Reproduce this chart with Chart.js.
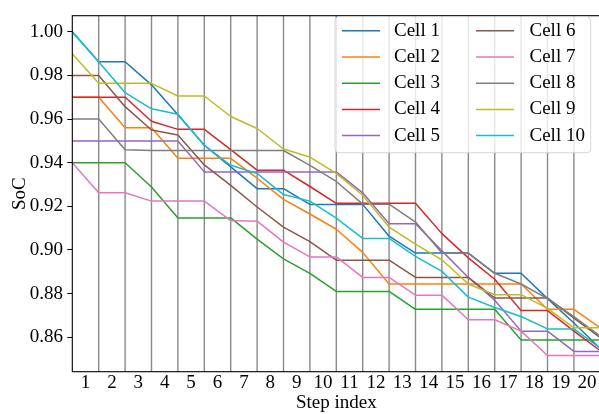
<!DOCTYPE html>
<html>
<head>
<meta charset="utf-8">
<title>Cell SoC per step</title>
<script src="https://cdn.jsdelivr.net/npm/chart.js@4.4.1/dist/chart.umd.min.js"></script>
<style>
  html, body { margin: 0; padding: 0; background: #fff; overflow: hidden; }
  #soc { display: block; }
</style>
</head>
<body>
<canvas id="soc" width="602" height="414"></canvas>
<script>
/** Data **/

// SoC is sampled on the boundaries between steps
const stepEdges = [0.5, 1.5, 2.5, 3.5, 4.5, 5.5, 6.5, 7.5, 8.5, 9.5, 10.5,
                   11.5, 12.5, 13.5, 14.5, 15.5, 16.5, 17.5, 18.5, 19.5, 20.5];
const stepTicks = [1, 2, 3, 4, 5, 6, 7, 8, 9, 10, 11, 12, 13, 14, 15, 16, 17, 18, 19, 20];
const socTicks = [0.86, 0.88, 0.90, 0.92, 0.94, 0.96, 0.98, 1.00];

const cell1  = [1.000, 0.9863, 0.9863, 0.9757, 0.962, 0.948, 0.9381, 0.9281, 0.9281, 0.9209, 0.9209,
                0.9209, 0.9063, 0.8986, 0.8986, 0.8986, 0.8893, 0.8893, 0.8777, 0.8665, 0.8548];
const cell2  = [0.970, 0.970, 0.956, 0.956, 0.942, 0.942, 0.942, 0.9329, 0.9232, 0.9165, 0.9095,
                0.8989, 0.8844, 0.8844, 0.8844, 0.8844, 0.8844, 0.8844, 0.8728, 0.8728, 0.8643];
const cell3  = [0.940, 0.940, 0.940, 0.9289, 0.9147, 0.9147, 0.9147, 0.905, 0.8959, 0.8893, 0.881,
                0.881, 0.881, 0.8728, 0.8728, 0.8728, 0.8728, 0.8587, 0.8587, 0.8587, 0.8587];
const cell4  = [0.970, 0.970, 0.970, 0.959, 0.9553, 0.9553, 0.946, 0.9366, 0.9366, 0.9291, 0.9214,
                0.9214, 0.9214, 0.9214, 0.9075, 0.8964, 0.8866, 0.8722, 0.8722, 0.8628, 0.8538];
const cell5  = [0.950, 0.950, 0.950, 0.950, 0.950, 0.9358, 0.9358, 0.9358, 0.9358, 0.9358, 0.9358,
                0.9262, 0.912, 0.912, 0.8996, 0.8874, 0.877, 0.8628, 0.8628, 0.8535, 0.8535];
const cell6  = [0.980, 0.980, 0.9657, 0.955, 0.9527, 0.939, 0.9296, 0.9197, 0.9105, 0.9038, 0.8953,
                0.8953, 0.8953, 0.8874, 0.8874, 0.8874, 0.878, 0.878, 0.878, 0.8688, 0.8598];
const cell7  = [0.940, 0.9262, 0.9262, 0.9224, 0.9224, 0.9224, 0.9135, 0.9132, 0.9036, 0.8968, 0.8968,
                0.8874, 0.8874, 0.8793, 0.8793, 0.868, 0.868, 0.8628, 0.8516, 0.8516, 0.8516];
const cell8  = [0.960, 0.960, 0.946, 0.9456, 0.9456, 0.9456, 0.9456, 0.9456, 0.9456, 0.9388, 0.9314,
                0.921, 0.921, 0.9128, 0.8986, 0.8986, 0.8893, 0.8844, 0.8777, 0.8695, 0.8605];
const cell9  = [0.990, 0.9764, 0.9764, 0.9764, 0.9706, 0.9706, 0.9612, 0.9557, 0.9463, 0.9426, 0.9351,
                0.9251, 0.9105, 0.9027, 0.8955, 0.8844, 0.8795, 0.8795, 0.8732, 0.8643, 0.8643];
const cell10 = [1.000, 0.9863, 0.9721, 0.9647, 0.9622, 0.948, 0.9388, 0.9351, 0.9254, 0.9224, 0.9146,
                0.9053, 0.9053, 0.8971, 0.8902, 0.8784, 0.8736, 0.8695, 0.8638, 0.8638, 0.855];

const cellNames = ['Cell 1', 'Cell 2', 'Cell 3', 'Cell 4', 'Cell 5',
                   'Cell 6', 'Cell 7', 'Cell 8', 'Cell 9', 'Cell 10'];
const cellSoc = [cell1, cell2, cell3, cell4, cell5, cell6, cell7, cell8, cell9, cell10];

/** Styles **/

const cellColors = ['#1f77b4', '#ff7f0e', '#2ca02c', '#d62728', '#9467bd',
                    '#8c564b', '#e377c2', '#7f7f7f', '#bcbd22', '#17becf'];
const serif = "'Liberation Serif', 'DejaVu Serif', serif";

Chart.defaults.font.family = serif;
Chart.defaults.font.size = 19;
Chart.defaults.color = '#000';

/** Plugins **/

// gray separators between consecutive steps, under the curves
const stepLines = {
    id: 'stepLines',
    beforeDatasetsDraw(chart) {
        const {ctx, chartArea, scales} = chart;
        ctx.save();
        ctx.strokeStyle = '#8a8a8a';
        ctx.lineWidth = 1.4;
        stepTicks.slice(0, -1).forEach(function(s) {
            const px = scales.x.getPixelForValue(s + 0.5);
            ctx.beginPath();
            ctx.moveTo(px, chartArea.top);
            ctx.lineTo(px, chartArea.bottom);
            ctx.stroke();
        });
        ctx.restore();
    }
};

// axes frame on top of the curves
const frame = {
    id: 'frame',
    afterDatasetsDraw(chart) {
        const {ctx, chartArea} = chart;
        ctx.save();
        ctx.strokeStyle = '#000';
        ctx.lineWidth = 1.1;
        ctx.strokeRect(chartArea.left, chartArea.top,
                       chartArea.right - chartArea.left, chartArea.bottom - chartArea.top);
        ctx.restore();
    }
};

// two column legend in the upper right corner
const legendBox = {
    id: 'legendBox',
    afterDraw(chart) {
        const {ctx} = chart;
        const sets = chart.data.datasets;
        const rows = Math.ceil(sets.length / 2);
        const box = {x: 335, y: 16.7, w: 255.7, h: 136};
        const rowTop = 30.8, rowStep = 26.2;
        const cols = [{line: 342, text: 394}, {line: 476, text: 529.5}];

        ctx.save();
        ctx.beginPath();
        ctx.roundRect(box.x, box.y, box.w, box.h, 4);
        ctx.fillStyle = 'rgba(255,255,255,0.8)';
        ctx.fill();
        ctx.strokeStyle = 'rgba(204,204,204,0.8)';
        ctx.lineWidth = 1;
        ctx.stroke();

        ctx.font = '19px ' + serif;
        ctx.textBaseline = 'middle';
        ctx.textAlign = 'left';
        sets.forEach(function(ds, i) {
            const col = cols[Math.floor(i / rows)];
            const y = rowTop + (i % rows) * rowStep;
            ctx.strokeStyle = ds.borderColor;
            ctx.lineWidth = 1.5;
            ctx.beginPath();
            ctx.moveTo(col.line, y);
            ctx.lineTo(col.line + 38, y);
            ctx.stroke();
            ctx.fillStyle = '#000';
            ctx.fillText(ds.label, col.text, y);
        });
        ctx.restore();
    }
};

/** Chart **/

new Chart(document.getElementById('soc'), {
    type: 'line',
    data: {
        datasets: cellSoc.map(function(vals, i) {
            return {
                label: cellNames[i],
                data: vals.map(function(v, j) { return {x: stepEdges[j], y: v}; }),
                borderColor: cellColors[i],
                borderWidth: 1.5,
                borderJoinStyle: 'round',
                pointRadius: 0,
                tension: 0,
                fill: false,
                order: cellSoc.length - i
            };
        })
    },
    options: {
        responsive: false,
        animation: false,
        events: [],
        layout: {padding: {left: 0, top: 6.3, right: 1.7, bottom: 0}},
        plugins: {legend: {display: false}, tooltip: {enabled: false}},
        scales: {
            x: {
                type: 'linear',
                min: 0.5,
                max: 20.5,
                afterBuildTicks: function(scale) {
                    scale.ticks = stepTicks.map(function(v) { return {value: v}; });
                },
                afterFit: function(scale) { scale.height = 42.3; },
                grid: {display: false, drawTicks: false},
                border: {display: false},
                ticks: {
                    padding: 2,
                    autoSkip: false,
                    maxRotation: 0,
                    font: {size: 19, lineHeight: 1},
                    callback: function(v) { return String(v); }
                },
                title: {
                    display: true,
                    text: 'Step index',
                    font: {size: 19, lineHeight: 1.2},
                    padding: {top: 0, bottom: 0}
                }
            },
            y: {
                type: 'linear',
                min: 0.8442,
                max: 1.0074,
                afterBuildTicks: function(scale) {
                    scale.ticks = socTicks.map(function(v) { return {value: v}; });
                },
                afterFit: function(scale) { scale.width = 72.3; },
                grid: {drawOnChartArea: false, color: '#000', tickLength: 5, lineWidth: 1},
                border: {display: false},
                ticks: {
                    padding: 4.3,
                    font: {size: 19},
                    callback: function(v) { return v.toFixed(2); }
                },
                title: {
                    display: true,
                    text: 'SoC',
                    font: {size: 19, lineHeight: 1.2},
                    padding: {top: 9, bottom: 0}
                }
            }
        }
    },
    plugins: [stepLines, frame, legendBox]
});
</script>
</body>
</html>
